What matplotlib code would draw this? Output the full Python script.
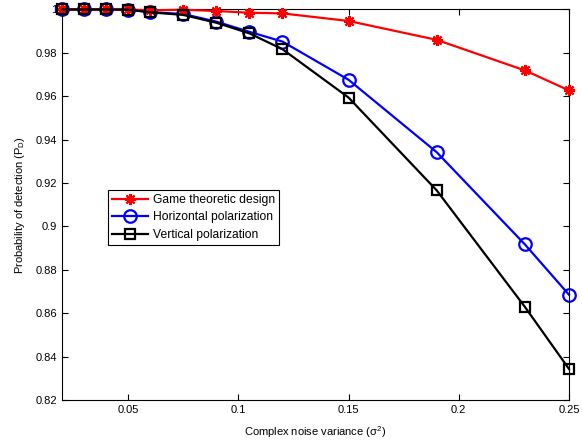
import matplotlib
matplotlib.use("Agg")
import matplotlib.pyplot as plt

plt.rcParams['font.family'] = ['Liberation Sans', 'DejaVu Sans']
plt.rcParams['mathtext.default'] = 'regular'

noise_var = [0.02, 0.03, 0.04, 0.05, 0.06, 0.075, 0.09, 0.105, 0.12, 0.15, 0.19, 0.23, 0.25]
game = [1.0, 1.0, 1.0, 1.0, 0.9996, 0.9999, 0.9993, 0.9985, 0.9982, 0.9947, 0.986, 0.9719, 0.9627]
horiz = [1.0, 1.0, 1.0, 0.9999, 0.9988, 0.9979, 0.9944, 0.9897, 0.9852, 0.9676, 0.9342, 0.8917, 0.8685]
vert = [1.0, 1.0, 1.0, 0.9999, 0.9987, 0.9975, 0.9939, 0.989, 0.9817, 0.9594, 0.9166, 0.8629, 0.8343]

xticks = [0.05, 0.1, 0.15, 0.2, 0.25]
xticklabels = ['0.05', '0.1', '0.15', '0.2', '0.25']
yticks = [0.82, 0.84, 0.86, 0.88, 0.9, 0.92, 0.94, 0.96, 0.98, 1.0]
yticklabels = ['0.82', '0.84', '0.86', '0.88', '0.9', '0.92', '0.94', '0.96', '0.98', '1']

fig = plt.figure(figsize=(5.82, 4.45), dpi=100)
ax = fig.add_axes([0.1065, 0.1011, 0.8712, 0.8776])

ax.plot(noise_var, game, color='red', lw=1.6, marker=(8, 2, 0), ms=8, mew=1.5,
        label='Game theoretic design', clip_on=False, zorder=3)
ax.plot(noise_var, horiz, color='blue', lw=1.6, marker='o', ms=9, mfc='none', mew=1.6,
        label='Horizontal polarization', clip_on=False, zorder=2)
ax.plot(noise_var, vert, color='black', lw=1.6, marker='s', ms=7, mfc='none', mew=1.6,
        label='Vertical polarization', clip_on=False, zorder=4)

ax.set_xlim(0.02, 0.25)
ax.set_ylim(0.82, 1.0)
ax.set_xticks(xticks)
ax.set_xticklabels(xticklabels)
ax.set_yticks(yticks)
ax.set_yticklabels(yticklabels)
ax.tick_params(direction='in', top=True, right=True, labelsize=8, length=4, width=0.8)
for s in ax.spines.values():
    s.set_linewidth(0.8)

ax.set_xlabel('Complex noise variance ($\\sigma^2$)', fontsize=8, labelpad=7)
ax.set_ylabel('Probability of detection ($P_D$)', fontsize=8, labelpad=6)

leg = ax.legend(loc='lower left', bbox_to_anchor=(0.09, 0.397), fontsize=8.7,
                frameon=True, fancybox=False, edgecolor='black', framealpha=1,
                borderpad=0.35, handlelength=3.0, labelspacing=0.45, handletextpad=0.4,
                borderaxespad=0)
leg.get_frame().set_linewidth(0.8)

fig.savefig('out.png', dpi=100)
